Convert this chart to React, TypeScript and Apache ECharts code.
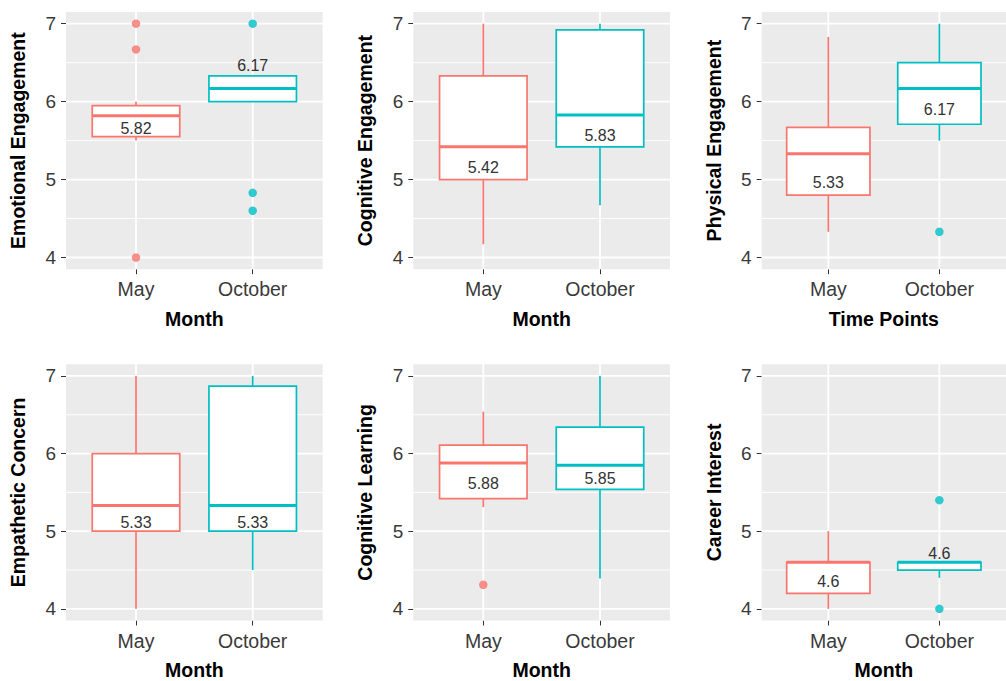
import React, { useEffect, useRef } from "react";
import * as echarts from "echarts";

// ---------- data ----------
const months = ["May", "October"];
const yTitles = [
  "Emotional Engagement",
  "Cognitive Engagement",
  "Physical Engagement",
  "Empathetic Concern",
  "Cognitive Learning",
  "Career Interest",
];
const xTitles = ["Month", "Month", "Time Points", "Month", "Month", "Month"];

const yMajorTicks = [4, 5, 6, 7];
const yMinorTicks = [4.5, 5.5, 6.5];
const xTicks = [1, 2];

// box stats per month: [lower whisker, Q1, median, Q3, upper whisker]
const emotionalBox = [
  [5.5, 5.55, 5.82, 5.95, 6.0],
  [6.0, 6.0, 6.17, 6.33, 6.33],
];
const emotionalOutliers = [[7, 6.67, 4], [7, 4.83, 4.6]];
const emotionalLabelY = [5.66, 6.46];

const cogEngBox = [
  [4.17, 5.0, 5.42, 6.33, 7.0],
  [4.67, 5.42, 5.83, 6.92, 7.0],
];
const cogEngOutliers: number[][] = [[], []];
const cogEngLabelY = [5.16, 5.56];

const physicalBox = [
  [4.33, 4.8, 5.33, 5.67, 6.83],
  [5.5, 5.71, 6.17, 6.5, 7.0],
];
const physicalOutliers = [[], [4.33]];
const physicalLabelY = [4.96, 5.9];

const empathyBox = [
  [4.0, 5.0, 5.33, 6.0, 7.0],
  [4.5, 5.0, 5.33, 6.87, 7.0],
];
const empathyOutliers: number[][] = [[], []];
const empathyLabelY = [5.11, 5.11];

const cogLearnBox = [
  [5.31, 5.42, 5.88, 6.11, 6.54],
  [4.39, 5.54, 5.85, 6.34, 7.0],
];
const cogLearnOutliers = [[4.31], []];
const cogLearnLabelY = [5.62, 5.68];

const careerBox = [
  [4.0, 4.2, 4.6, 4.6, 5.0],
  [4.4, 4.5, 4.6, 4.6, 4.6],
];
const careerOutliers = [[], [5.4, 4.0]];
const careerLabelY = [4.35, 4.71];

const panelBoxes = [emotionalBox, cogEngBox, physicalBox, empathyBox, cogLearnBox, careerBox];
const panelOutliers = [
  emotionalOutliers,
  cogEngOutliers,
  physicalOutliers,
  empathyOutliers,
  cogLearnOutliers,
  careerOutliers,
];
const panelLabelY = [
  emotionalLabelY,
  cogEngLabelY,
  physicalLabelY,
  empathyLabelY,
  cogLearnLabelY,
  careerLabelY,
];

// ---------- style ----------
const COLORS = ["#F8766D", "#00BFC4"];
const FONT = "Liberation Sans, Arial, sans-serif";
const Y_MIN = 3.85;
const Y_MAX = 7.15;
const X_MIN = 0.4;
const X_MAX = 2.6;
const GRID_LEFTS = [66, 413.3, 761.7];
const GRID_TOPS = [12, 364.3];
const GRID_W = 256.7;
const GRID_H = 257.2;

function buildOption() {
  const grid: any[] = [];
  const xAxis: any[] = [];
  const yAxis: any[] = [];
  const series: any[] = [];

  for (let p = 0; p < 6; p++) {
    const col = p % 3;
    const row = Math.floor(p / 3);
    grid.push({
      left: GRID_LEFTS[col],
      top: GRID_TOPS[row],
      width: GRID_W,
      height: GRID_H,
      show: true,
      backgroundColor: "#EBEBEB",
      borderWidth: 0,
      containLabel: false,
    });
    xAxis.push({
      type: "value",
      gridIndex: p,
      min: X_MIN,
      max: X_MAX,
      axisLine: { show: false },
      splitLine: { show: false },
      axisTick: {
        show: true,
        customValues: xTicks,
        length: 5,
        lineStyle: { color: "#333333", width: 1 },
      },
      axisLabel: {
        customValues: xTicks,
        formatter: (v: number) => months[Math.round(v) - 1] ?? "",
        fontSize: 19.5,
        color: "#3A3A3A",
        fontFamily: FONT,
        margin: 10,
      },
      name: xTitles[p],
      nameLocation: "middle",
      nameGap: 39.5,
      nameTextStyle: {
        fontSize: 19.5,
        fontWeight: "bold",
        color: "#000000",
        fontFamily: FONT,
      },
    });
    yAxis.push({
      type: "value",
      gridIndex: p,
      min: Y_MIN,
      max: Y_MAX,
      axisLine: { show: false },
      splitLine: { show: false },
      axisTick: {
        show: true,
        customValues: yMajorTicks,
        length: 5,
        lineStyle: { color: "#333333", width: 1 },
      },
      axisLabel: {
        customValues: yMajorTicks,
        fontSize: 19,
        color: "#3A3A3A",
        fontFamily: FONT,
        margin: 10,
      },
      name: yTitles[p],
      nameLocation: "middle",
      nameRotate: 90,
      nameGap: 38,
      nameTextStyle: {
        fontSize: 19.5,
        fontWeight: "bold",
        color: "#000000",
        fontFamily: FONT,
      },
    });

    // grid lines
    const gridData: number[][] = [
      ...yMajorTicks.map((v) => [0, v, 1.8]),
      ...yMinorTicks.map((v) => [0, v, 0.9]),
      ...xTicks.map((v) => [1, v, 1.8]),
    ];
    series.push({
      type: "custom",
      xAxisIndex: p,
      yAxisIndex: p,
      silent: true,
      z: 1,
      data: gridData,
      renderItem: (_params: any, api: any) => {
        const kind = api.value(0);
        const v = api.value(1);
        const w = api.value(2);
        let p1, p2;
        if (kind === 0) {
          p1 = api.coord([X_MIN, v]);
          p2 = api.coord([X_MAX, v]);
        } else {
          p1 = api.coord([v, Y_MIN]);
          p2 = api.coord([v, Y_MAX]);
        }
        return {
          type: "line",
          shape: { x1: p1[0], y1: p1[1], x2: p2[0], y2: p2[1] },
          style: { stroke: "#FFFFFF", lineWidth: w },
        };
      },
    });

    // boxes
    const boxData = panelBoxes[p].map((s, i) => [i + 1, ...s, panelLabelY[p][i]]);
    series.push({
      type: "custom",
      xAxisIndex: p,
      yAxisIndex: p,
      silent: true,
      z: 3,
      data: boxData,
      renderItem: (params: any, api: any) => {
        const x = api.value(0);
        const lo = api.value(1);
        const q1 = api.value(2);
        const med = api.value(3);
        const q3 = api.value(4);
        const hi = api.value(5);
        const ly = api.value(6);
        const color = COLORS[params.dataIndex];
        const hw = 0.375;
        const tl = api.coord([x - hw, q3]);
        const br = api.coord([x + hw, q1]);
        const pLo = api.coord([x, lo]);
        const pQ1 = api.coord([x, q1]);
        const pQ3 = api.coord([x, q3]);
        const pHi = api.coord([x, hi]);
        const mL = api.coord([x - hw, med]);
        const mR = api.coord([x + hw, med]);
        const lab = api.coord([x, ly]);
        return {
          type: "group",
          children: [
            {
              type: "line",
              shape: { x1: pLo[0], y1: pLo[1], x2: pQ1[0], y2: pQ1[1] },
              style: { stroke: color, lineWidth: 1.7 },
            },
            {
              type: "line",
              shape: { x1: pQ3[0], y1: pQ3[1], x2: pHi[0], y2: pHi[1] },
              style: { stroke: color, lineWidth: 1.7 },
            },
            {
              type: "rect",
              shape: { x: tl[0], y: tl[1], width: br[0] - tl[0], height: br[1] - tl[1] },
              style: { fill: "#FFFFFF", stroke: color, lineWidth: 1.7 },
            },
            {
              type: "line",
              shape: { x1: mL[0], y1: mL[1], x2: mR[0], y2: mR[1] },
              style: { stroke: color, lineWidth: 3 },
            },
            {
              type: "text",
              x: lab[0],
              y: lab[1],
              style: {
                text: String(med),
                align: "center",
                verticalAlign: "middle",
                fontSize: 16,
                fontFamily: FONT,
                fill: "#333333",
              },
            },
          ],
        };
      },
    });

    // outliers
    panelOutliers[p].forEach((vals, i) => {
      series.push({
        type: "scatter",
        xAxisIndex: p,
        yAxisIndex: p,
        silent: true,
        z: 4,
        symbol: "circle",
        symbolSize: 8.5,
        itemStyle: { color: COLORS[i] },
        data: vals.map((v) => [i + 1, v]),
      });
    });
  }

  return {
    animation: false,
    backgroundColor: "#FFFFFF",
    grid,
    xAxis,
    yAxis,
    series,
  };
}

export default function App() {
  const ref = useRef<HTMLDivElement>(null);
  useEffect(() => {
    document.body.style.margin = "0";
    if (!ref.current) return;
    const chart = echarts.init(ref.current, undefined, { renderer: "svg" });
    chart.setOption(buildOption() as any);
    return () => {
      chart.dispose();
    };
  }, []);
  return (
    <div
      ref={ref}
      style={{ position: "fixed", left: 0, top: 0, width: 1006, height: 681 }}
    />
  );
}
